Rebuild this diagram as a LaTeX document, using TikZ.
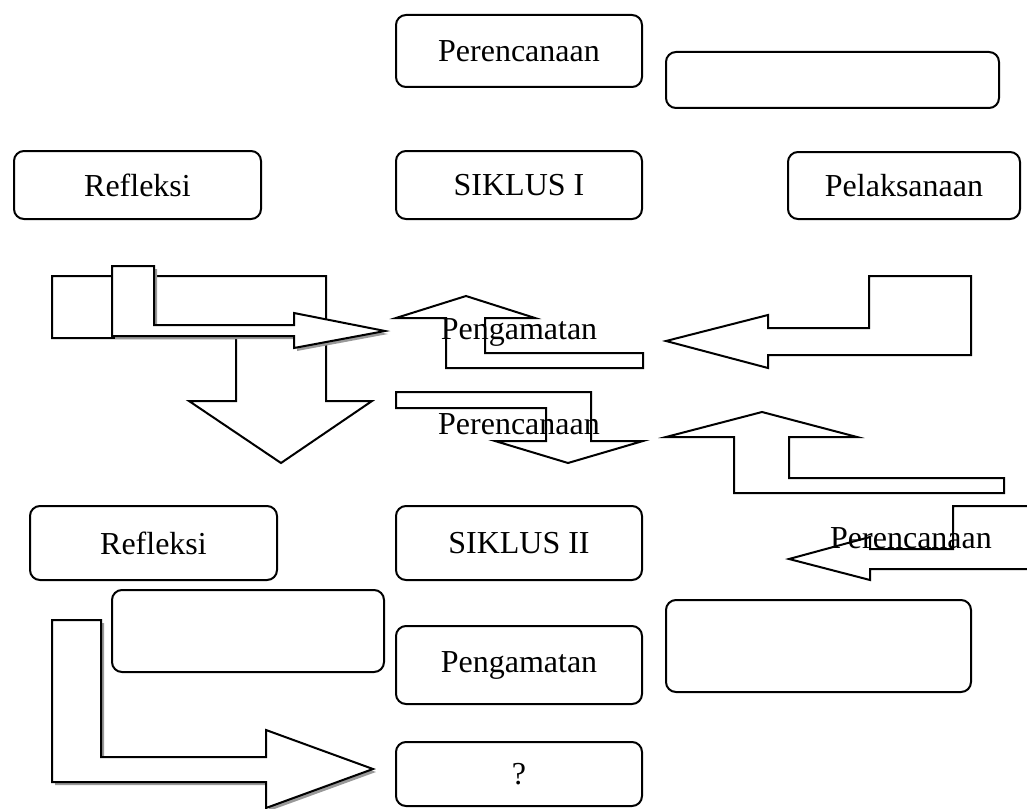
\documentclass[tikz,border=0pt]{standalone}
\usepackage{fontspec}
\setmainfont{Liberation Serif}
\usetikzlibrary{shadows}
\tikzset{
  box/.style={draw, line width=1pt, rounded corners=5pt, fill=white, inner sep=0pt, font=\fontsize{16}{19}\selectfont},
  blockarrow/.style={draw, line width=1pt, fill=white, line join=miter},
  shadowed/.style={drop shadow={shadow xshift=1.5pt, shadow yshift=-1.5pt, fill=gray!80, opacity=1}},
  arrowtext/.style={anchor=base, inner sep=0pt, font=\fontsize{16}{19}\selectfont}
}
\begin{document}
\begin{tikzpicture}[x=0.5pt,y=-0.5pt]
  \useasboundingbox (0,0) rectangle (1027,808);
  \clip (0,0) rectangle (1027,808);
  % first cycle
  \node[box, minimum width=123pt, minimum height=36pt] (plan1) at (519,51) {Perencanaan};
  \node[box, minimum width=166.5pt, minimum height=28pt] (blank1) at (832.5,80) {};
  \node[box, minimum width=123.5pt, minimum height=34pt] (refl1) at (137.5,185) {Refleksi};
  \node[box, minimum width=123pt, minimum height=34pt] (cyc1) at (519,185) {SIKLUS I};
  \node[box, minimum width=116pt, minimum height=33.5pt] (exec1) at (904,185.5) {Pelaksanaan};
  % block arrows between the cycles
  \draw[blockarrow] (52,276) -- (326,276) -- (326,401) -- (372,401) -- (281,463) -- (189,401) -- (236,401) -- (236,338) -- (52,338) -- cycle;
  \draw[blockarrow, shadowed] (112,266) -- (154,266) -- (154,325) -- (294,325) -- (294,313) -- (385,331) -- (294,348) -- (294,336) -- (112,336) -- cycle;
  \draw[blockarrow] (396,318) -- (466,296) -- (535,318) -- (485,318) -- (485,353) -- (643,353) -- (643,368) -- (446,368) -- (446,318) -- cycle;
  \node[arrowtext] (obsarrow) at (519,339) {Pengamatan};
  \draw[blockarrow] (396,392) -- (591,392) -- (591,441) -- (643,441) -- (568,463) -- (495,441) -- (546,441) -- (546,408) -- (396,408) -- cycle;
  \node[arrowtext] (planarrow) at (519,434) {Perencanaan};
  \draw[blockarrow] (666,341) -- (768,315) -- (768,328) -- (869,328) -- (869,276) -- (971,276) -- (971,355) -- (768,355) -- (768,368) -- cycle;
  \draw[blockarrow] (666,437) -- (762,412) -- (857,437) -- (789,437) -- (789,478) -- (1004,478) -- (1004,493) -- (734,493) -- (734,437) -- cycle;
  \draw[blockarrow] (789,559) -- (870,537) -- (870,549) -- (953,549) -- (953,506) -- (1040,506) -- (1040,569) -- (870,569) -- (870,580) -- cycle;
  \node[arrowtext] (planarrow2) at (911,548) {Perencanaan};
  % second cycle
  \node[box, minimum width=123.5pt, minimum height=37pt] (refl2) at (153.5,543) {Refleksi};
  \node[box, minimum width=123pt, minimum height=37pt] (cyc2) at (519,543) {SIKLUS II};
  \node[box, minimum width=136pt, minimum height=41pt] (blank2) at (248,631) {};
  \node[box, minimum width=123pt, minimum height=39pt] (obs2) at (519,665) {Pengamatan};
  \node[box, minimum width=152.5pt, minimum height=46pt] (blank3) at (818.5,646) {};
  \node[box, minimum width=123pt, minimum height=32pt] (query) at (519,774) {?};
  \draw[blockarrow, shadowed] (52,620) -- (101,620) -- (101,757) -- (266,757) -- (266,730) -- (373,769) -- (266,808) -- (266,782) -- (52,782) -- cycle;
\end{tikzpicture}
\end{document}
